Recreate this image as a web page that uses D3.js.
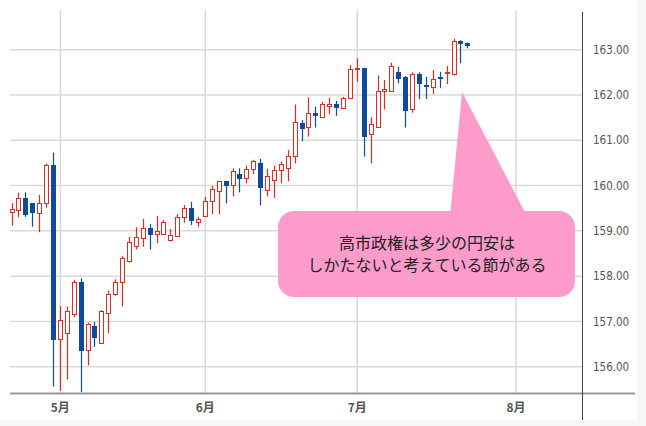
<!DOCTYPE html>
<html>
<head>
<meta charset="utf-8">
<script src="https://cdn.jsdelivr.net/npm/d3@7"></script>
<style>
  body { margin: 0; background: #f6f6f6; }
  svg { display: block; }
  .y.axis text { font-family: "DejaVu Sans Condensed", "DejaVu Sans", sans-serif; font-size: 11.5px; fill: #555; }
  .x.axis text { font-family: "Noto Sans CJK JP", sans-serif; font-size: 12px; font-weight: bold; fill: #555; }
  .note { font-family: "Noto Sans CJK JP", sans-serif; font-size: 16px; fill: #222; }
</style>
</head>
<body>
<div id="chart"></div>
<script>
// daily candles, one per trading day from 2026-04-22
var open = [159.43,159.46,159.73,159.61,159.41,159.61,160.45,156.61,156.76,157.18,
            157.88,156.37,156.90,156.52,157.20,157.62,157.88,158.34,158.67,158.84,
            159.06,158.93,158.93,158.80,158.89,159.30,159.50,159.20,159.34,159.66,
            159.88,160.09,160.01,160.25,160.17,160.37,160.49,159.92,160.12,160.34,
            160.40,160.65,161.39,161.29,161.61,161.51,161.76,161.80,161.73,161.93,
            162.56,162.60,161.12,161.29,162.09,162.07,162.51,162.40,161.68,162.46,
            162.21,162.17,162.40,162.48,162.48,163.19,163.15],
    high = [159.61,159.84,159.85,159.61,159.79,160.49,160.73,157.34,157.33,157.92,
            157.95,156.97,156.99,157.25,157.68,157.93,158.45,158.87,159.08,159.26,
            159.15,159.33,159.24,159.04,159.37,159.57,159.64,159.31,159.75,159.99,
            160.10,160.10,160.38,160.38,160.44,160.57,160.59,160.37,160.44,160.53,
            160.79,161.79,161.45,161.95,161.74,161.85,161.94,161.87,161.96,162.66,
            162.81,162.60,161.51,162.43,162.33,162.71,162.62,162.42,162.50,162.50,
            162.40,162.55,162.51,162.64,163.24,163.21,163.16],
    low  = [159.12,159.30,159.31,159.09,158.97,159.51,155.56,155.47,155.72,157.09,
            155.44,156.03,156.44,156.52,156.74,157.56,157.33,158.30,158.59,158.65,
            158.59,158.73,158.91,158.76,158.87,159.18,159.13,159.09,159.31,159.37,
            159.37,159.61,159.76,159.85,160.05,160.25,159.56,159.76,159.73,160.05,
            160.09,160.49,160.98,161.08,161.28,161.51,161.57,161.54,161.73,161.93,
            162.29,160.64,160.49,161.29,161.68,162.07,162.26,161.28,161.61,161.91,
            161.91,162.02,162.15,162.24,162.43,162.70,163.03],
    close = [159.49,159.73,159.37,159.41,159.62,160.45,156.61,157.03,157.24,157.88,
            156.37,156.94,156.66,157.22,157.61,157.88,158.40,158.76,158.86,159.07,
            158.93,159.00,159.20,158.91,159.30,159.50,159.24,159.26,159.67,159.92,
            160.09,160.01,160.33,160.17,160.37,160.54,159.96,160.22,160.34,160.47,
            160.66,161.41,161.29,161.61,161.57,161.80,161.81,161.73,161.94,162.57,
            162.59,161.10,161.35,162.09,162.13,162.63,162.38,161.68,162.46,162.26,
            162.18,162.35,162.38,162.50,163.20,163.14,163.10];

var priceTicks = [156, 157, 158, 159, 160, 161, 162, 163];
var monthLabels = ['5月', '6月', '7月', '8月'];
var note = ['高市政権は多少の円安は', 'しかたないと考えている節がある'];

var width = 646, height = 426,
    plot = {left: 10, right: 582, top: 10, bottom: 393},
    up = '#dd2b25', down = '#0f4b9c';

// trading days (weekdays) shown on the axis
var days = d3.timeDay.range(new Date(2026, 3, 22), new Date(2026, 8, 1))
  .filter(function(d) { return d.getDay() > 0 && d.getDay() < 6; })
  .slice(0, 83);
var monthStarts = days.filter(function(d, i) {
  return i > 0 && d.getMonth() !== days[i - 1].getMonth();
});

var candles = close.map(function(c, i) {
  return {date: days[i], o: open[i], h: high[i], l: low[i], c: c};
});

var x = d3.scaleBand()
    .domain(days)
    .range([7.5, 582.7])
    .padding(0.3);

var y = d3.scaleLinear()
    .domain([155.42, 163.876])
    .range([plot.bottom, plot.top]);

var cx = function(d) { return x(d) + x.bandwidth() / 2; };
var bw = Math.round(x.bandwidth());

var svg = d3.select('#chart').append('svg')
    .attr('width', width)
    .attr('height', height);

svg.append('rect')
    .attr('width', 637).attr('height', 420)
    .attr('fill', '#fff');

svg.append('clipPath').attr('id', 'clip')
  .append('rect')
    .attr('x', plot.left).attr('y', plot.top)
    .attr('width', plot.right - plot.left)
    .attr('height', plot.bottom - plot.top);

// grid
var grid = svg.append('g').attr('stroke', '#d9d9d9').attr('stroke-width', 1.5);
grid.selectAll('.h').data(priceTicks).enter().append('line')
    .attr('x1', plot.left).attr('x2', plot.right)
    .attr('y1', function(d) { return y(d); })
    .attr('y2', function(d) { return y(d); });
grid.selectAll('.v').data(monthStarts).enter().append('line')
    .attr('x1', cx).attr('x2', cx)
    .attr('y1', plot.top).attr('y2', plot.bottom);

// candles
var g = svg.append('g').attr('clip-path', 'url(#clip)');
var candle = g.selectAll('.candle').data(candles).enter().append('g')
    .attr('class', 'candle');

candle.append('line')
    .attr('x1', function(d) { return Math.round(x(d.date)) + bw / 2; })
    .attr('x2', function(d) { return Math.round(x(d.date)) + bw / 2; })
    .attr('y1', function(d) { return y(d.h); })
    .attr('y2', function(d) { return y(d.l); })
    .attr('stroke', function(d) { return d.c >= d.o ? up : down; })
    .attr('stroke-width', 1.2);

candle.append('rect')
    .attr('x', function(d) { return Math.round(x(d.date)) + 0.5; })
    .attr('width', bw - 1)
    .attr('y', function(d) { return Math.round(y(Math.max(d.o, d.c))) + 0.5; })
    .attr('height', function(d) { return Math.max(1, Math.round(Math.abs(y(d.o) - y(d.c)))); })
    .attr('fill', function(d) { return d.c >= d.o ? '#fff' : down; })
    .attr('stroke', function(d) { return d.c >= d.o ? up : down; })
    .attr('stroke-width', 1);

// axes
svg.append('line')
    .attr('x1', plot.left).attr('x2', 635)
    .attr('y1', plot.bottom + 0.5).attr('y2', plot.bottom + 0.5)
    .attr('stroke', '#999').attr('stroke-width', 2);
svg.append('line')
    .attr('x1', plot.right + 0.5).attr('x2', plot.right + 0.5)
    .attr('y1', 12).attr('y2', 420)
    .attr('stroke', '#444').attr('stroke-width', 1);

var yAxis = d3.axisRight(y)
    .tickValues(priceTicks)
    .tickFormat(d3.format('.2f'))
    .tickSize(0)
    .tickPadding(11);
svg.append('g')
    .attr('class', 'y axis')
    .attr('transform', 'translate(' + plot.right + ',0)')
    .call(yAxis)
    .call(function(a) { a.select('.domain').remove(); });

var xAxis = d3.axisBottom(x)
    .tickValues(monthStarts)
    .tickFormat(function(d, i) { return monthLabels[i]; })
    .tickSize(0)
    .tickPadding(10);
svg.append('g')
    .attr('class', 'x axis')
    .attr('transform', 'translate(0,' + plot.bottom + ')')
    .call(xAxis)
    .call(function(a) { a.select('.domain').remove(); });

// callout
var callout = svg.append('g');
callout.append('path')
    .attr('d', 'M462,92 L450,216 L527,216 Z')
    .attr('fill', '#fd9bcb');
callout.append('rect')
    .attr('x', 278).attr('y', 211)
    .attr('width', 297).attr('height', 86)
    .attr('rx', 16)
    .attr('fill', '#fd9bcb');
callout.selectAll('.note').data(note).enter().append('text')
    .attr('class', 'note')
    .attr('x', 427)
    .attr('y', function(d, i) { return 242 + i * 22; })
    .attr('text-anchor', 'middle')
    .attr('dominant-baseline', 'central')
    .text(function(d) { return d; });
</script>
</body>
</html>
